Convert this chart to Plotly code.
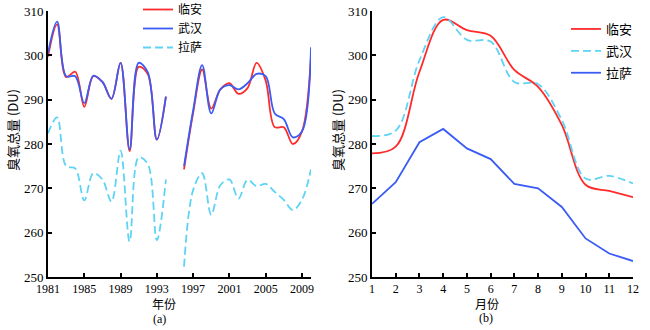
import plotly.graph_objects as go

# ---- Panel (a): annual total ozone (DU) ----
years = list(range(1981, 2011))
linan_year = [299.7, 307.0, 295.1, 296.3, 288.4, 295.3, 294.0, 290.2, 298.3, 278.4,
              297.4, 295.8, 281.0, 290.7, None, 274.3, 287.0, 296.8, 288.0, 292.3,
              293.7, 291.3, 292.6, 298.3, 294.3, 283.8, 283.8, 280.0, 282.8, 299.8]
wuhan_year = [300.5, 307.6, 295.3, 295.3, 289.2, 295.4, 294.0, 290.2, 298.3, 278.8,
              298.3, 296.2, 281.0, 290.7, None, 275.0, 287.5, 297.8, 286.9, 292.3,
              293.3, 292.3, 293.7, 295.8, 295.3, 286.9, 285.6, 281.5, 282.8, 301.8]
lasa_year = [282.4, 286.0, 275.0, 274.5, 267.3, 273.4, 272.0, 267.0, 278.5, 258.0,
             277.0, 275.5, 258.3, 272.0, None, 252.3, 269.6, 273.4, 264.0, 270.7,
             272.0, 267.7, 271.9, 270.5, 271.0, 269.2, 267.4, 265.1, 267.4, 274.3]
year_ticks = [1981, 1985, 1989, 1993, 1997, 2001, 2005, 2009]

# ---- Panel (b): monthly total ozone (DU) ----
months = list(range(1, 13))
linan_month = [277.9, 279.4, 296.3, 308.0, 305.7, 304.4, 296.7, 292.9, 284.3, 270.8, 269.4, 268.0]
wuhan_month = [281.8, 283.0, 298.9, 308.6, 303.5, 303.1, 294.0, 293.5, 285.4, 272.2, 272.8, 271.1]
lasa_month = [266.5, 271.4, 280.4, 283.4, 279.0, 276.6, 271.0, 270.0, 265.8, 258.7, 255.3, 253.6]

names = ["临安", "武汉", "拉萨"]

RED = "#ff2b2b"
BLUE = "#3a5cf5"
CYAN = "#5fd3f5"

SERIF = "Liberation Serif"
CJK = "Noto Sans CJK SC"

fig = go.Figure()

# panel a
fig.add_trace(go.Scatter(x=years, y=linan_year, name=names[0], mode="lines",
                         line=dict(color=RED, width=1.8, shape="spline", smoothing=1.0),
                         connectgaps=False, xaxis="x", yaxis="y", legend="legend"))
fig.add_trace(go.Scatter(x=years, y=wuhan_year, name=names[1], mode="lines",
                         line=dict(color=BLUE, width=1.8, shape="spline", smoothing=1.0),
                         connectgaps=False, xaxis="x", yaxis="y", legend="legend"))
fig.add_trace(go.Scatter(x=years, y=lasa_year, name=names[2], mode="lines",
                         line=dict(color=CYAN, width=1.8, shape="spline", smoothing=1.0,
                                   dash="8px,4px"),
                         connectgaps=False, xaxis="x", yaxis="y", legend="legend"))

# panel b
fig.add_trace(go.Scatter(x=months, y=linan_month, name=names[0], mode="lines",
                         line=dict(color=RED, width=1.8, shape="spline", smoothing=1.0),
                         xaxis="x2", yaxis="y2", legend="legend2", legendgroup="b1"))
fig.add_trace(go.Scatter(x=months, y=wuhan_month, name=names[1], mode="lines",
                         line=dict(color=CYAN, width=1.8, shape="spline", smoothing=1.0,
                                   dash="8px,4px"),
                         xaxis="x2", yaxis="y2", legend="legend2", legendgroup="b2"))
fig.add_trace(go.Scatter(x=months, y=lasa_month, name=names[2], mode="lines",
                         line=dict(color=BLUE, width=1.8),
                         xaxis="x2", yaxis="y2", legend="legend2", legendgroup="b3"))

W, H = 650, 330
ydom = [1 - 277 / H, 1 - 11 / H]

axis_common = dict(showgrid=False, zeroline=False, showline=True, linecolor="black",
                   linewidth=2, ticks="inside", ticklen=4, tickwidth=1.5, tickcolor="black",
                   mirror=False, automargin=False)
xfont = dict(family=SERIF, size=12, color="black")
yfont = dict(family=SERIF, size=13, color="black")

fig.update_layout(
    width=W, height=H,
    margin=dict(l=0, r=0, t=0, b=0, autoexpand=False),
    paper_bgcolor="white", plot_bgcolor="white",
    xaxis=dict(domain=[48 / W, 311 / W], range=[1981, 2010], tickvals=year_ticks,
               anchor="y", tickfont=xfont, **axis_common),
    yaxis=dict(domain=ydom, range=[250, 310], dtick=10, anchor="x", tickfont=yfont, **axis_common),
    xaxis2=dict(domain=[372 / W, 633 / W], range=[1, 12], dtick=1, anchor="y2",
                tickfont=xfont, **axis_common),
    yaxis2=dict(domain=ydom, range=[250, 310], dtick=10, anchor="x2", tickfont=yfont, **axis_common),
    legend=dict(x=138 / W, y=1 + 5 / H, xanchor="left", yanchor="top",
                bgcolor="rgba(0,0,0,0)", font=dict(family=CJK, size=12, color="black"),
                tracegroupgap=0),
    legend2=dict(x=566 / W, y=1 - 14 / H, xanchor="left", yanchor="top",
                 bgcolor="rgba(0,0,0,0)", font=dict(family=CJK, size=13, color="black"),
                 tracegroupgap=2),
    showlegend=True,
)

ann_font = dict(family=CJK, size=12, color="black")


def ann(text, x, y, font, angle=0):
    fig.add_annotation(text=text, x=x / W, y=1 - y / H, xref="paper", yref="paper",
                       xanchor="center", yanchor="middle", textangle=angle,
                       showarrow=False, font=font)


ann("臭氧总量 (DU)", 12, 130, dict(family=CJK, size=13, color="black"), -90)
ann("臭氧总量 (DU)", 337, 130, dict(family=CJK, size=13, color="black"), -90)
ann("年份", 164, 303, ann_font)
ann("月份", 487, 303, ann_font)
ann("(a)", 159, 319, dict(family=SERIF, size=12, color="black"))
ann("(b)", 486, 318, dict(family=SERIF, size=12, color="black"))

fig.write_html("out.html")
